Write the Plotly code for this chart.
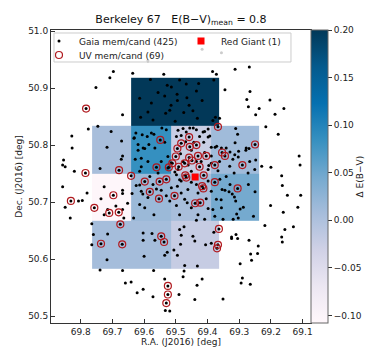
import plotly.graph_objects as go
import plotly.express as px

# Gaia members/candidates without UV counterpart (R.A., Dec. in deg)
field_ra = [
    69.588, 69.417, 69.356, 69.697, 69.636, 69.708, 69.752, 69.668, 69.746, 69.776,
    69.704, 69.828, 69.631, 69.671, 69.717, 69.827, 69.668, 69.854, 69.857, 69.849,
    69.820, 69.739, 69.538, 69.384, 69.372, 69.580, 69.488, 69.428, 69.380, 69.527,
    69.514, 69.467, 69.435, 69.556, 69.535, 69.496, 69.465, 69.614, 69.577, 69.495,
    69.417, 69.515, 69.519, 69.458, 69.588, 69.532, 69.475, 69.446, 69.611, 69.572,
    69.432, 69.375, 69.502, 69.383, 69.362, 69.544, 69.477, 69.445, 69.398, 69.577,
    69.467, 69.414, 69.590, 69.498, 69.393, 69.451, 69.376, 69.598, 69.619, 69.477,
    69.514, 69.420, 69.396, 69.609, 69.503, 69.313, 69.268, 69.345, 69.266, 69.276,
    69.203, 69.271, 69.237, 69.159, 69.248, 69.187, 69.216, 69.311, 69.305, 69.177,
    69.313, 69.269, 69.279, 69.303, 69.248, 69.111, 69.108, 69.229, 69.200, 69.316,
    69.166, 69.626, 69.632, 69.606, 69.569, 69.530, 69.619, 69.603, 69.585, 69.566,
    69.535, 69.628, 69.609, 69.588, 69.546, 69.525, 69.493, 69.456, 69.435, 69.409,
    69.483, 69.425, 69.398, 69.469, 69.443, 69.412, 69.388, 69.371, 69.356, 69.485,
    69.409, 69.388, 69.461, 69.435, 69.388, 69.362, 69.525, 69.493, 69.451, 69.398,
    69.367, 69.330, 69.320, 69.341, 69.329, 69.314, 69.302, 69.278, 69.267, 69.272,
    69.251, 69.341, 69.614, 69.582, 69.556, 69.498, 69.488, 69.672, 69.857, 69.726,
    69.780, 69.668, 69.668, 69.736, 69.638, 69.625, 69.807, 69.795, 69.849, 69.689,
    69.652, 69.715, 69.726, 69.668, 69.664, 69.833, 69.633, 69.765, 69.760, 69.715,
    69.765, 69.717, 69.739, 69.668, 69.659, 69.641, 69.622, 69.614, 69.609, 69.572,
    69.561, 69.546, 69.514, 69.495, 69.483, 69.451, 69.435, 69.398, 69.361, 69.354,
    69.388, 69.430, 69.462, 69.483, 69.604, 69.588, 69.530, 69.519, 69.472, 69.464,
    69.404, 69.372, 69.357, 69.614, 69.598, 69.498, 69.451, 69.398, 69.383, 69.356,
    69.569, 69.488, 69.430, 69.377, 69.409, 69.435, 69.351, 69.474, 69.488, 69.380,
    69.603, 69.483, 69.446, 69.575, 69.603, 69.566, 69.485, 69.440, 69.406, 69.388,
    69.506, 69.527, 69.535, 69.495, 69.600, 69.472, 69.432, 69.570, 69.474, 69.477,
    69.535, 69.417, 69.433, 69.603, 69.572, 69.490, 69.440, 69.533, 69.519, 69.351,
    69.329, 69.271, 69.345, 69.332, 69.322, 69.250, 69.315, 69.311, 69.287, 69.297,
    69.308, 69.303, 69.319, 69.255, 69.164, 69.148, 69.106, 69.201, 69.115, 69.161,
    69.219, 69.129, 69.156, 69.310, 69.324, 69.324, 69.305, 69.166, 69.164, 69.269,
    69.240, 69.264, 69.242, 69.261, 69.297, 69.290, 69.294, 69.265,
]
field_dec = [
    50.948, 50.968, 50.962, 50.929, 50.926, 50.918, 50.901, 50.853, 50.833, 50.828,
    50.824, 50.816, 50.813, 50.807, 50.796, 50.795, 50.781, 50.774, 50.765, 50.762,
    50.754, 50.759, 50.924, 50.929, 50.924, 50.915, 50.914, 50.908, 50.914, 50.905,
    50.902, 50.907, 50.895, 50.892, 50.886, 50.889, 50.883, 50.882, 50.874, 50.878,
    50.878, 50.870, 50.861, 50.870, 50.858, 50.856, 50.857, 50.860, 50.849, 50.844,
    50.847, 50.849, 50.842, 50.843, 50.847, 50.830, 50.829, 50.830, 50.828, 50.821,
    50.823, 50.823, 50.815, 50.815, 50.816, 50.791, 50.796, 50.794, 50.791, 50.771,
    50.769, 50.771, 50.764, 50.762, 50.753, 50.933, 50.937, 50.897, 50.894, 50.880,
    50.879, 50.867, 50.864, 50.864, 50.853, 50.854, 50.832, 50.829, 50.819, 50.819,
    50.804, 50.794, 50.791, 50.779, 50.774, 50.781, 50.765, 50.763, 50.761, 50.751,
    50.746, 50.821, 50.812, 50.818, 50.819, 50.827, 50.801, 50.795, 50.801, 50.795,
    50.805, 50.775, 50.777, 50.771, 50.771, 50.780, 50.826, 50.830, 50.827, 50.824,
    50.817, 50.815, 50.814, 50.806, 50.805, 50.805, 50.796, 50.798, 50.795, 50.785,
    50.787, 50.781, 50.765, 50.771, 50.768, 50.771, 50.760, 50.757, 50.754, 50.757,
    50.755, 50.763, 50.775, 50.795, 50.788, 50.783, 50.789, 50.795, 50.771, 50.751,
    50.757, 50.745, 50.754, 50.745, 50.751, 50.748, 50.739, 50.775, 50.727, 50.727,
    50.716, 50.721, 50.715, 50.706, 50.715, 50.729, 50.702, 50.703, 50.691, 50.693,
    50.698, 50.687, 50.678, 50.687, 50.672, 50.672, 50.672, 50.662, 50.643, 50.644,
    50.625, 50.599, 50.581, 50.580, 50.558, 50.560, 50.541, 50.730, 50.719, 50.731,
    50.723, 50.721, 50.725, 50.728, 50.737, 50.735, 50.731, 50.737, 50.740, 50.722,
    50.719, 50.716, 50.722, 50.716, 50.714, 50.708, 50.711, 50.702, 50.705, 50.699,
    50.706, 50.705, 50.704, 50.696, 50.690, 50.694, 50.690, 50.689, 50.687, 50.690,
    50.678, 50.678, 50.678, 50.675, 50.670, 50.668, 50.670, 50.657, 50.652, 50.647,
    50.646, 50.642, 50.640, 50.645, 50.633, 50.633, 50.626, 50.632, 50.625, 50.628,
    50.616, 50.612, 50.607, 50.607, 50.605, 50.589, 50.588, 50.580, 50.579, 50.569,
    50.565, 50.565, 50.554, 50.547, 50.534, 50.538, 50.529, 50.510, 50.509, 50.530,
    50.731, 50.731, 50.721, 50.718, 50.714, 50.718, 50.709, 50.702, 50.691, 50.688,
    50.679, 50.672, 50.670, 50.675, 50.729, 50.712, 50.712, 50.694, 50.691, 50.682,
    50.659, 50.657, 50.652, 50.643, 50.639, 50.636, 50.636, 50.639, 50.630, 50.633,
    50.623, 50.609, 50.610, 50.598, 50.592, 50.567, 50.558, 50.556,
]

# members/candidates with a UV counterpart
uv_ra = [
    69.783, 69.785, 69.679, 69.641, 69.367, 69.458, 69.549, 69.483, 69.456, 69.435,
    69.495, 69.404, 69.430, 69.500, 69.458, 69.449, 69.491, 69.425, 69.377, 69.561,
    69.522, 69.470, 69.412, 69.250, 69.345, 69.290, 69.697, 69.831, 69.757, 69.710,
    69.680, 69.675, 69.736, 69.669, 69.598, 69.551, 69.530, 69.467, 69.377, 69.417,
    69.413, 69.582, 69.504, 69.553, 69.439, 69.423, 69.364, 69.546, 69.537, 69.367,
    69.370, 69.525, 69.525, 69.530, 69.305, 69.354, 69.511, 69.472,
]
uv_dec = [
    50.864, 50.751, 50.756, 50.746, 50.832, 50.814, 50.809, 50.803, 50.797, 50.800,
    50.794, 50.781, 50.781, 50.780, 50.778, 50.773, 50.762, 50.762, 50.765, 50.761,
    50.761, 50.747, 50.747, 50.801, 50.781, 50.765, 50.712, 50.702, 50.690, 50.681,
    50.682, 50.661, 50.627, 50.626, 50.736, 50.736, 50.740, 50.743, 50.735, 50.728,
    50.724, 50.718, 50.711, 50.706, 50.698, 50.699, 50.653, 50.640, 50.630, 50.625,
    50.619, 50.553, 50.538, 50.523, 50.724, 50.787, 50.768, 50.768,
]

rg_ra = [69.439]
rg_dec = [50.744]

# extinction map cells (edges in deg), delta E(B-V) per cell
cell_ra_edges = [69.238, 69.364, 69.389, 69.514, 69.640, 69.764]
cell_dec_edges = [50.583, 50.667, 50.750, 50.833, 50.918]
delta_ebv = [
    [None, -0.022, -0.022, 0.008, 0.008],
    [0.045, 0.045, 0.006, 0.016, -0.105],
    [0.012, 0.012, -0.025, 0.085, 0.006],
    [None, 0.205, 0.205, 0.205, None],
]

ra_ticks = [69.1, 69.2, 69.3, 69.4, 69.5, 69.6, 69.7, 69.8]
dec_ticks = [50.5, 50.6, 50.7, 50.8, 50.9, 51.0]
cbar_ticks = [-0.10, -0.05, 0.0, 0.05, 0.10, 0.15, 0.20]

FONT = "DejaVu Sans"

fig = go.Figure()

fig.add_trace(go.Heatmap(
    x=cell_ra_edges,
    y=cell_dec_edges,
    z=delta_ebv,
    colorscale=px.colors.sequential.PuBu,
    zmin=-0.108,
    zmax=0.2,
    hoverongaps=False,
    showlegend=False,
    colorbar=dict(
        x=1.0, xanchor='left', xpad=0,
        y=0.5, yanchor='middle', ypad=0,
        len=1, lenmode='fraction',
        thickness=17,
        outlinewidth=1, outlinecolor='#666',
        tickvals=cbar_ticks, tickformat='.2f',
        ticks='outside', ticklen=4, tickcolor='#333',
        tickfont=dict(size=9, color='#222', family=FONT),
    ),
))

fig.add_trace(go.Scatter(
    x=field_ra + uv_ra, y=field_dec + uv_dec,
    mode='markers', name='Gaia mem/cand (425)',
    marker=dict(size=3, color='black'),
    legend='legend', showlegend=True,
))

fig.add_trace(go.Scatter(
    x=uv_ra, y=uv_dec,
    mode='markers', name='UV mem/cand (69)',
    marker=dict(size=7, symbol='circle-open', color='#b0191e', line=dict(width=1.2)),
    legend='legend3', showlegend=True,
))

fig.add_trace(go.Scatter(
    x=rg_ra, y=rg_dec,
    mode='markers', name='Red Giant (1)',
    marker=dict(size=7, symbol='square', color='#ff0000'),
    legend='legend2', showlegend=True,
))

axis_common = dict(
    ticks='inside', ticklen=4, tickcolor='#333',
    showline=True, linecolor='#333', linewidth=1, mirror=True,
    showgrid=False, zeroline=False, tickformat='.1f', automargin=False,
    tickfont=dict(size=9, color='#222', family=FONT),
)

legend_font = dict(size=9, color='#222', family=FONT)
legend_common = dict(
    orientation='v', xanchor='left', yanchor='middle',
    bgcolor='rgba(0,0,0,0)', borderwidth=0,
    indentation=-15, font=legend_font, itemsizing='trace',
)

fig.update_layout(
    width=374, height=347,
    showlegend=True,
    margin=dict(l=43, r=71, t=22, b=32),
    paper_bgcolor='white', plot_bgcolor='white',
    font=dict(family=FONT, size=9, color='#222'),
    title=dict(
        text='Berkeley 67\u00a0\u00a0\u00a0E(B\u2212V)<sub>mean</sub> = 0.8',
        x=0.5, xref='paper', xanchor='center',
        y=1 - 11 / 347, yref='container', yanchor='middle',
        font=dict(size=11, color='#111', family=FONT),
    ),
    xaxis=dict(range=[69.8937, 69.0735], tickvals=ra_ticks, **axis_common),
    yaxis=dict(range=[50.488, 51.0018], tickvals=dec_ticks,
               title=dict(text='Dec. (J2016) [deg]', font=dict(size=9), standoff=4),
               **axis_common),
    legend=dict(x=0.0115, y=0.9625, **legend_common),
    legend2=dict(x=0.5577, y=0.9625, **legend_common),
    legend3=dict(x=0.0115, y=0.9147, **legend_common),
    shapes=[dict(
        type='rect', xref='paper', yref='paper', layer='above',
        x0=0.0115, x1=0.923, y0=0.8908, y1=0.9898,
        fillcolor='rgba(255,255,255,0.8)', line=dict(color='#cccccc', width=1),
    )],
    annotations=[
        dict(text='R.A. (J2016) [deg]', x=0.5, y=-0.065, xref='paper', yref='paper',
             xanchor='center', yanchor='middle', showarrow=False,
             font=dict(size=9, color='#222', family=FONT)),
        dict(text='\u0394 E(B\u2212V)', textangle=-90,
             x=1.215, y=0.5, xref='paper', yref='paper',
             showarrow=False, font=dict(size=9, color='#222', family=FONT)),
    ],
)

fig.write_html("out.html")
